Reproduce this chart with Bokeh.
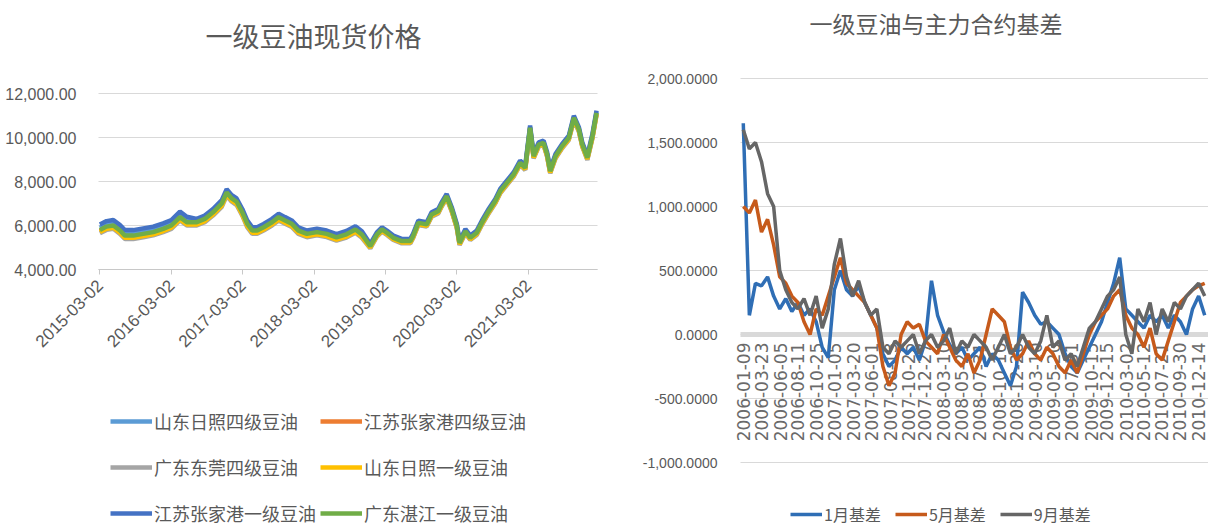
import pandas as pd
from math import pi
from bokeh.plotting import figure
from bokeh.layouts import row
from bokeh.models import (ColumnDataSource, FixedTicker, DatetimeTickFormatter, Legend,
                          LegendItem, Range1d, NumeralTickFormatter, Label)
from bokeh.core.properties import value
from bokeh.embed import file_html
from bokeh.resources import INLINE

# ---------------- left chart data: 一级豆油现货价格 ----------------
spot_dates = ["2015-03-02", "2015-04-05", "2015-05-10", "2015-06-13", "2015-07-08", "2015-08-20",
              "2015-10-10", "2015-11-30", "2016-01-20", "2016-03-02", "2016-04-15", "2016-05-20",
              "2016-07-10", "2016-08-20", "2016-10-01", "2016-11-15", "2016-12-10", "2017-01-05",
              "2017-01-30", "2017-02-28", "2017-03-25", "2017-04-20", "2017-05-15", "2017-06-17",
              "2017-07-30", "2017-09-02", "2017-10-05", "2017-11-08", "2017-12-12", "2018-01-25",
              "2018-03-17", "2018-05-06", "2018-06-25", "2018-08-15", "2018-09-30", "2018-11-02",
              "2018-12-15", "2019-01-18", "2019-02-13", "2019-03-10", "2019-04-12", "2019-05-25",
              "2019-07-08", "2019-07-22", "2019-08-18", "2019-09-30", "2019-10-25", "2019-11-28",
              "2019-12-15", "2020-01-10", "2020-02-05", "2020-03-02", "2020-03-16", "2020-04-15",
              "2020-05-10", "2020-06-12", "2020-07-08", "2020-08-12", "2020-09-15", "2020-10-10",
              "2020-11-13", "2020-12-18", "2021-01-20", "2021-02-15", "2021-03-12", "2021-03-30",
              "2021-04-25", "2021-05-20", "2021-06-07", "2021-06-23", "2021-07-20", "2021-08-23",
              "2021-09-26", "2021-10-22", "2021-11-17", "2021-12-04", "2021-12-30", "2022-01-25",
              "2022-02-15"]

sd_grade4 = [5900, 6050, 6100, 5870, 5640, 5640, 5720, 5800, 5950, 6100, 6480, 6250,
             6200, 6350, 6650, 7050, 7550, 7280, 7130, 6650, 6130, 5820, 5820, 5970, 6200, 6430, 6280, 6130,
             5820, 5670, 5750, 5670, 5510, 5650, 5870, 5640,
             5090, 5620, 5850, 5700, 5470, 5320, 5320, 5550, 6150, 6080, 6530, 6680, 6980, 7360, 6760, 6000,
             5240, 5770, 5470, 5700, 6150, 6680, 7140, 7590, 7970, 8350, 8880, 8650, 10470, 9180, 9710, 9790,
             9260, 8500, 9180, 9640, 10010, 10920, 10390, 9710, 9110, 10090, 11150]
js_grade4 = [5740, 5890, 5940, 5710, 5480, 5480, 5560, 5640, 5790, 5940, 6320, 6090,
             6090, 6240, 6540, 6940, 7440, 7170, 7020, 6540, 6020, 5710, 5710, 5860, 6090, 6320, 6170, 6020,
             5710, 5560, 5640, 5560, 5400, 5540, 5760, 5530,
             5000, 5530, 5760, 5610, 5380, 5230, 5230, 5460, 6060, 5990, 6440, 6590, 6890, 7270, 6670, 5910,
             5150, 5680, 5380, 5610, 6060, 6590, 7050, 7500, 7880, 8260, 8790, 8560, 10380, 9090, 9620, 9700,
             9170, 8410, 9090, 9550, 9920, 10830, 10300, 9620, 9020, 10000, 11060]
gd_grade4 = [5650, 5800, 5850, 5620, 5390, 5390, 5470, 5550, 5700, 5850, 6230, 6000,
             6000, 6150, 6450, 6850, 7350, 7080, 6930, 6450, 5930, 5620, 5620, 5770, 6000, 6230, 6080, 5930,
             5620, 5470, 5550, 5470, 5310, 5450, 5670, 5440,
             4960, 5490, 5720, 5570, 5340, 5190, 5190, 5420, 6020, 5950, 6400, 6550, 6850, 7230, 6630, 5870,
             5110, 5640, 5340, 5570, 6020, 6550, 7010, 7460, 7840, 8220, 8750, 8520, 10340, 9050, 9580, 9660,
             9130, 8370, 9050, 9510, 9880, 10790, 10260, 9580, 8980, 9960, 11020]
sd_grade1 = [5700, 5850, 5900, 5670, 5440, 5440, 5520, 5600, 5750, 5900, 6280, 6050,
             6050, 6200, 6500, 6900, 7400, 7130, 6980, 6500, 5980, 5670, 5670, 5820, 6050, 6280, 6130, 5980,
             5670, 5520, 5600, 5520, 5360, 5500, 5720, 5490,
             5000, 5530, 5760, 5610, 5380, 5230, 5230, 5460, 6060, 5990, 6440, 6590, 6890, 7270, 6670, 5910,
             5150, 5680, 5380, 5610, 6060, 6590, 7050, 7500, 7880, 8260, 8790, 8560, 10380, 9090, 9620, 9700,
             9170, 8410, 9090, 9550, 9920, 10830, 10300, 9620, 9020, 10000, 11060]
js_grade1 = [6050, 6200, 6250, 6020, 5790, 5790, 5870, 5950, 6100, 6250, 6630, 6400,
             6300, 6450, 6750, 7150, 7650, 7380, 7230, 6750, 6230, 5920, 5920, 6070, 6300, 6530, 6380, 6230,
             5920, 5770, 5850, 5770, 5610, 5750, 5970, 5740,
             5160, 5690, 5920, 5770, 5540, 5390, 5390, 5620, 6220, 6150, 6600, 6750, 7050, 7430, 6830, 6070,
             5310, 5840, 5540, 5770, 6220, 6750, 7210, 7660, 8040, 8420, 8950, 8720, 10540, 9250, 9780, 9860,
             9330, 8570, 9250, 9710, 10080, 10990, 10460, 9780, 9180, 10160, 11220]
gd_zj_grade1 = [5800, 5950, 6000, 5770, 5540, 5540, 5620, 5700, 5850, 6000, 6380, 6150,
                6150, 6300, 6600, 7000, 7500, 7230, 7080, 6600, 6080, 5770, 5770, 5920, 6150, 6380, 6230, 6080,
                5770, 5620, 5700, 5620, 5460, 5600, 5820, 5590,
                5060, 5590, 5820, 5670, 5440, 5290, 5290, 5520, 6120, 6050, 6500, 6650, 6950, 7330, 6730, 5970,
                5210, 5740, 5440, 5670, 6120, 6650, 7110, 7560, 7940, 8320, 8850, 8620, 10440, 9150, 9680, 9760,
                9230, 8470, 9150, 9610, 9980, 10890, 10360, 9680, 9080, 10060, 11120]

spot_names = ["山东日照四级豆油", "江苏张家港四级豆油", "广东东莞四级豆油",
              "山东日照一级豆油", "江苏张家港一级豆油", "广东湛江一级豆油"]
spot_colors = ["#5B9BD5", "#ED7D31", "#A5A5A5", "#FFC000", "#4472C4", "#70AD47"]
spot_ticks = ["2015-03-02", "2016-03-02", "2017-03-02", "2018-03-02",
              "2019-03-02", "2020-03-02", "2021-03-02"]
spot_yticks = [4000, 6000, 8000, 10000, 12000]
spot_xspan = ["2015-02-23", "2022-02-20"]

# ---------------- right chart data: 一级豆油与主力合约基差 ----------------
basis_start = "2006-01-09"
basis_jan = [1650, 150, 400, 380, 450, 300, 200, 280, 180, 250, 150, 200, 100, -100, -180, 350, 500,
             350, 300, 380, 250, 150, 50, -150, -250, -200, -100, -150, -100, -200, -50, 420, 150,
             20, -80, -150, -100, -200, -150, -100, -250, -150, -200, -300, -400, -250, 330, 250, 150,
             80, 100, 50, 0, -150, -250, -300, -200, -100, 0, 100, 250, 400, 600, 200, 150, 100, 50,
             150, 100, 150, 50, 150, 100, 0, 200, 300, 150]
basis_may = [1000, 950, 1050, 800, 900, 700, 450, 400, 300, 250, 100, 0, 200, 150, 300, 450, 600,
             400, 350, 300, 250, 150, 50, -250, -400, -300, 0, 100, 50, 80, -50, -100, -150,
             0, -100, -200, -250, -150, -300, -200, 0, 200, 150, 100, -100, -200, -150, -50, -150,
             -200, -100, -150, -250, -300, -200, -300, -150, 0, 100, 150, 200, 300, 350, 150, 50, 0,
             -100, 50, -150, -200, -50, 100, 250, 300, 350, 380, 400]
basis_sep = [1600, 1450, 1500, 1350, 1100, 1000, 500, 350, 250, 200, 280, 150, 300, 50, 200, 550, 750,
             450, 300, 420, 250, 150, 200, -100, -150, -50, -100, -50, 0, -150, -50, 0, -100,
             -50, 50, -150, -50, -100, 0, -50, -100, -200, -100, 0, -150, -100, 0, -100, -150,
             -50, 150, -100, -50, -200, -150, -250, -100, 50, 100, 200, 300, 350, 450, 0, -150, 200,
             100, 250, 0, 200, 100, 250, 200, 300, 350, 400, 300]
basis_names = ["1月基差", "5月基差", "9月基差"]
basis_colors = ["#2F6EB5", "#C65A1B", "#666666"]
basis_labels = ["2006-01-09", "2006-03-23", "2006-06-05", "2006-08-11", "2006-10-25", "2007-01-05",
                "2007-03-20", "2007-06-01", "2007-08-13", "2007-10-25", "2007-12-27", "2008-03-10",
                "2008-05-21", "2008-07-31", "2008-10-16", "2008-12-26", "2009-03-10", "2009-05-20",
                "2009-07-31", "2009-10-15", "2009-12-15", "2010-03-02", "2010-05-12", "2010-07-21",
                "2010-09-30", "2010-12-14"]
basis_cross = 0
basis_yticks = [-1000, -500, 0, 500, 1000, 1500, 2000]
basis_xspan = ["2005-12-29", "2011-01-22"]

GREY = "#595959"
GRID = "#D9D9D9"
CJK = "Noto Sans CJK SC"
W, H = 604, 528


def ms(d):
    return pd.Timestamp(d).value // 10**6


def fmt_all(f):
    return DatetimeTickFormatter(microseconds=f, milliseconds=f, seconds=f, minsec=f, minutes=f,
                                 hourmin=f, hours=f, days=f, months=f, years=f)


def full_range(v0, v1, p0, p1, total):
    # range so that value v0 sits at pixel p0 and v1 at pixel p1 (pixels counted from range start)
    k = (v1 - v0) / (p1 - p0)
    return Range1d(v0 - p0 * k, v0 + (total - p0) * k)


def style_yaxis(ax, fmt, size, standoff):
    ax.formatter = NumeralTickFormatter(format=fmt)
    ax.axis_line_color = None
    ax.major_tick_line_color = None
    ax.minor_tick_line_color = None
    ax.major_label_standoff = standoff
    ax.major_label_text_font = "Liberation Sans"
    ax.major_label_text_font_size = size
    ax.major_label_text_color = GREY


# ---------------- left figure ----------------
x0, x1 = ms(spot_xspan[0]), ms(spot_xspan[1])
p1 = figure(width=W, height=H, x_axis_type="datetime", title=None,
            x_range=full_range(x0, x1, 98, 597, W),
            y_range=full_range(spot_yticks[0], spot_yticks[-1], H - 269, H - 93, H),
            output_backend="svg", toolbar_location=None, min_border=0)
p1.outline_line_color = None
p1.xgrid.visible = False
p1.ygrid.visible = False

p1.segment(x0=[x0] * len(spot_yticks), x1=[x1] * len(spot_yticks), y0=spot_yticks, y1=spot_yticks,
           line_color=GRID, line_width=1)

src1 = ColumnDataSource(dict(date=pd.to_datetime(spot_dates), s1=sd_grade4, s2=js_grade4, s3=gd_grade4,
                             s4=sd_grade1, s5=js_grade1, s6=gd_zj_grade1))
r_spot = []
for i, key in enumerate(["s1", "s2", "s3", "s4", "s5", "s6"]):
    r_spot.append(p1.line("date", key, source=src1, line_width=4.5, color=spot_colors[i]))

p1.yaxis.ticker = FixedTicker(ticks=spot_yticks)
p1.yaxis.fixed_location = x0
style_yaxis(p1.yaxis[0], "0,0.00", "16px", 16)

xa = p1.xaxis[0]
xa.fixed_location = spot_yticks[0]
xa.bounds = (x0, x1)
xa.ticker = FixedTicker(ticks=[ms(d) for d in spot_ticks])
xa.formatter = fmt_all("%Y-%m-%d")
xa.major_label_orientation = pi / 4
xa.axis_line_color = "#C8C8C8"
xa.major_tick_line_color = "#C8C8C8"
xa.major_tick_out = 5
xa.major_tick_in = 0
xa.minor_tick_line_color = None
xa.major_label_standoff = 8
xa.major_label_text_font = "Liberation Sans"
xa.major_label_text_font_size = "17px"
xa.major_label_text_color = GREY

p1.add_layout(Label(x=205, y=H - 35, x_units="screen", y_units="screen", text="一级豆油现货价格",
                    text_font=CJK, text_font_size="27px", text_color=GREY, text_baseline="middle"))

for (a, b), row_center in zip([(0, 1), (2, 3), (4, 5)], [423, 469, 515]):
    lg = Legend(items=[LegendItem(label=spot_names[a], renderers=[r_spot[a]]),
                       LegendItem(label=spot_names[b], renderers=[r_spot[b]])],
                location=(110, H - row_center - 11), orientation="horizontal",
                glyph_width=42, glyph_height=22, label_height=22, label_standoff=2,
                label_width=163, spacing=3, padding=0, margin=0,
                border_line_color=None, background_fill_alpha=0,
                label_text_font=CJK, label_text_font_size="18px", label_text_color=GREY)
    p1.add_layout(lg, "center")

# ---------------- right figure ----------------
b0, b1 = ms(basis_xspan[0]), ms(basis_xspan[1])
p2 = figure(width=W, height=H, x_axis_type="datetime", title=None, x_axis_location=None,
            x_range=full_range(b0, b1, 136, 604, W),
            y_range=full_range(basis_yticks[0], basis_yticks[-1], H - 462, H - 78, H),
            output_backend="svg", toolbar_location=None, min_border=0)
p2.outline_line_color = None
p2.xgrid.visible = False
p2.ygrid.visible = False

p2.segment(x0=[b0] * len(basis_yticks), x1=[b1] * len(basis_yticks), y0=basis_yticks, y1=basis_yticks,
           line_color=GRID, line_width=1)
p2.segment(x0=[b0], x1=[b1], y0=[basis_cross], y1=[basis_cross], line_color="#D9D9D9", line_width=5)

p2.yaxis.ticker = FixedTicker(ticks=basis_yticks)
p2.yaxis.fixed_location = b0
style_yaxis(p2.yaxis[0], "0,0.0000", "14px", 17)

lab_src = ColumnDataSource(dict(x=pd.to_datetime(basis_labels), y=[basis_cross] * len(basis_labels),
                                t=basis_labels))
p2.text(x="x", y="y", text="t", source=lab_src, angle=pi / 2, text_align="right",
        text_baseline="middle", y_offset=8, text_font=value("DejaVu Sans"),
        text_font_size="17px", text_color="#6A6A6A")

src2 = ColumnDataSource(dict(date=pd.date_range(basis_start, periods=len(basis_jan), freq="24D"),
                             jan=basis_jan, may=basis_may, sep=basis_sep))
r_basis = []
for i, key in enumerate(["jan", "may", "sep"]):
    r_basis.append(p2.line("date", key, source=src2, line_width=3.5, color=basis_colors[i]))

p2.add_layout(Label(x=205, y=H - 22, x_units="screen", y_units="screen", text="一级豆油与主力合约基差",
                    text_font=CJK, text_font_size="23px", text_color=GREY, text_baseline="middle"))

lg2 = Legend(items=[LegendItem(label=basis_names[i], renderers=[r_basis[i]]) for i in range(3)],
             location=(186, H - 515 - 11), orientation="horizontal", glyph_width=32, glyph_height=22,
             label_height=22, label_standoff=2, spacing=14, padding=0, margin=0,
             border_line_color=None, background_fill_alpha=0, label_text_font=CJK,
             label_text_font_size="16px", label_text_color=GREY)
p2.add_layout(lg2, "center")

layout = row(p1, p2)
open("out.html", "w").write(file_html(layout, INLINE))
